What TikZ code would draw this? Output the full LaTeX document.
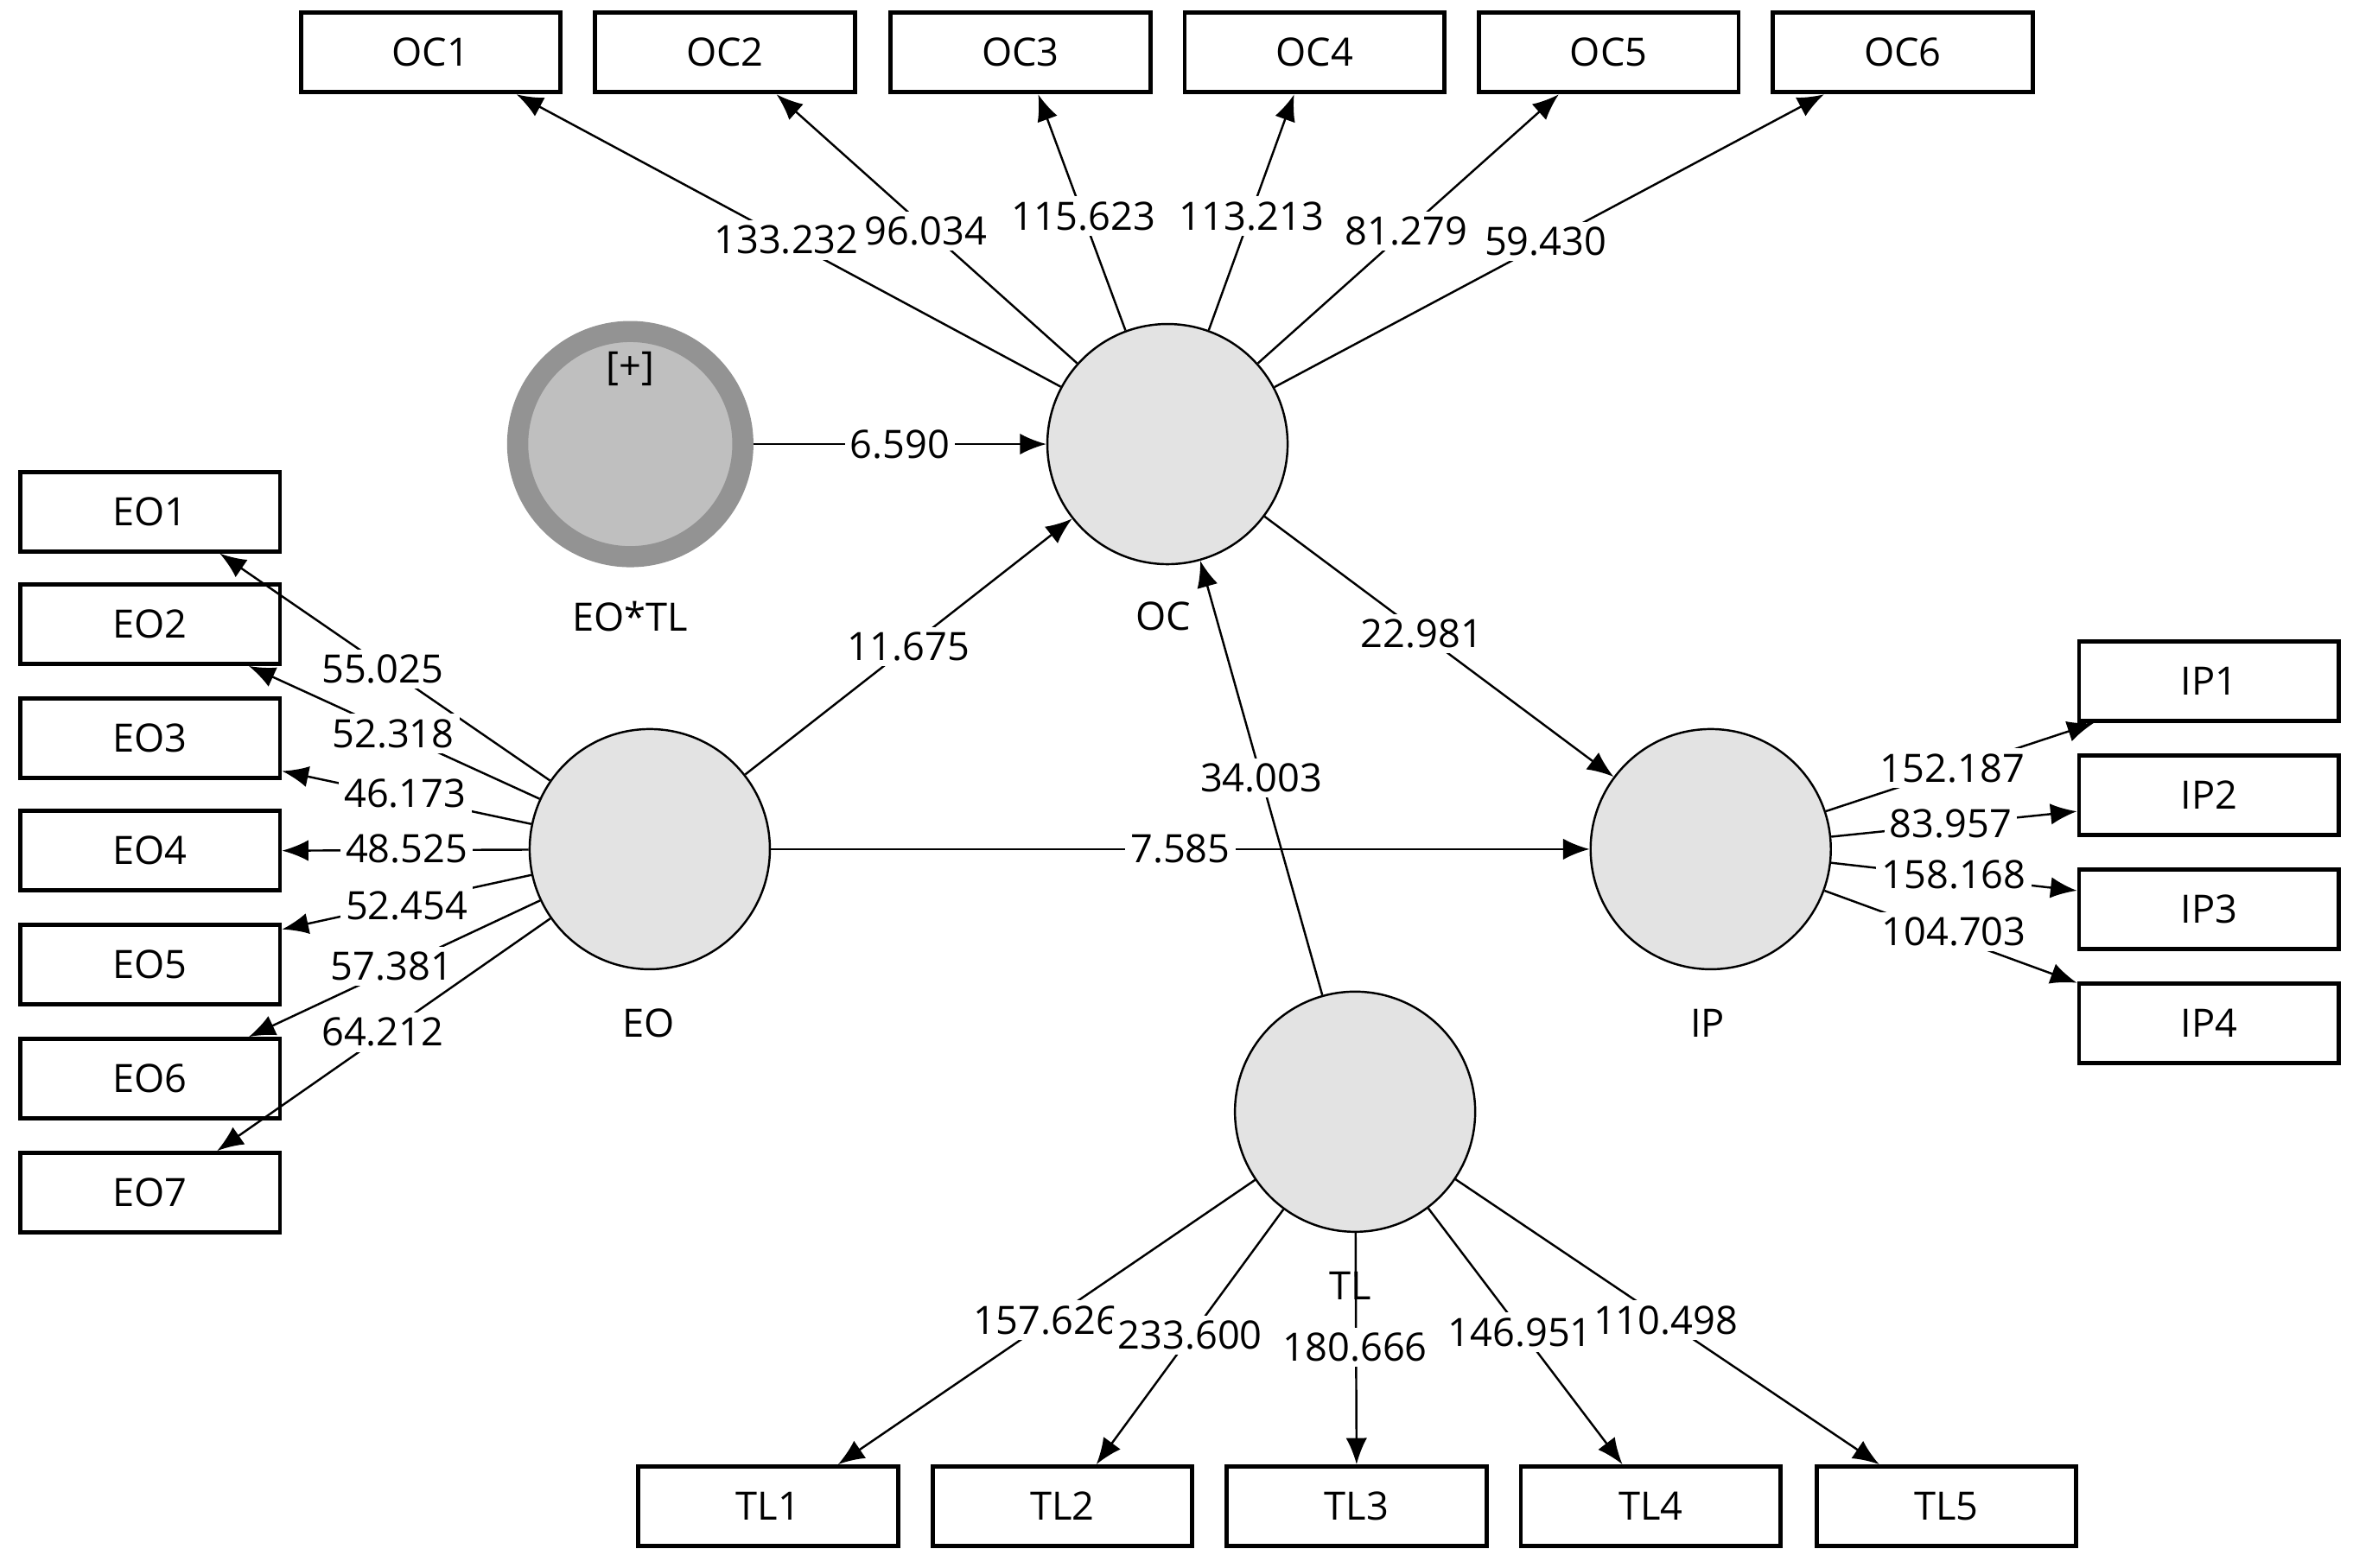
\documentclass[tikz,border=0pt]{standalone}
\usepackage{fontspec}
\setmainfont{Open Sans}
\usetikzlibrary{arrows.meta}
\begin{document}
\begin{tikzpicture}[x=0.01cm,y=-0.01cm,font=\fontsize{7.4}{9}\selectfont,
    ind/.style={draw,thick,minimum width=1.73cm,minimum height=0.53cm,inner sep=0pt},
    lat/.style={draw,circle,fill=gray!22,minimum size=1.6cm,inner sep=0pt},
    lbl/.style={fill=white,inner sep=1pt},
    arr/.style={-{Latex[length=5pt,width=4pt]}}]
    \useasboundingbox (0,0) rectangle (1568,1045);

    % latent variables
    \node[lat] (OC) at (778,296) {};
    \node[lat] (EO) at (433,566) {};
    \node[lat] (IP) at (1140,566) {};
    \node[lat] (TL) at (903,741) {};
    \node[lat,draw=gray!85,line width=4pt,minimum size=1.5cm,fill=gray!50] (EOTL) at (420,296) {};
    \node at (420,246) {[+]};
    \node at (420,411) {EO*TL};
    \node at (775,411) {OC};
    \node at (432,682) {EO};
    \node at (1138,682) {IP};
    \node at (900,857) {TL};

    % indicators
    \foreach \i/\x in {1/287,2/483,3/680,4/876,5/1072,6/1268}
        \node[ind] (OC\i) at (\x,35) {OC\i};
    \foreach \i/\y in {1/341,2/416,3/492,4/567,5/643,6/719,7/795}
        \node[ind] (EO\i) at (100,\y) {EO\i};
    \foreach \i/\y in {1/454,2/530,3/606,4/682}
        \node[ind] (IP\i) at (1472,\y) {IP\i};
    \foreach \i/\x in {1/512,2/708,3/904,4/1100,5/1297}
        \node[ind] (TL\i) at (\x,1004) {TL\i};

    % loadings
    \foreach \i/\a/\v/\lx/\ly in {1/-26/133.232/524/160,2/-39/96.034/617/154,3/-67/115.623/722/144,
        4/-116/113.213/834/144,5/-140/81.279/937/154,6/-152/59.430/1030/161}
    {
        \draw[arr] (OC) -- (OC\i.\a);
        \node[lbl] at (\lx,\ly) {\v};
    }
    \foreach \i/\a/\v/\lx/\ly in {1/-31/55.025/255/446,2/-23/52.318/262/489,3/-14/46.173/270/529,
        4/0/48.525/271/566,5/15/52.454/271/604,6/23/57.381/261/644,7/32/64.212/255/688}
    {
        \draw[arr] (EO) -- (EO\i.\a);
        \node[lbl] at (\lx,\ly) {\v};
    }
    \foreach \i/\a/\v/\lx/\ly in {1/-160/152.187/1301/512,2/-173/83.957/1300/549,
        3/172/158.168/1302/583,4/163/104.703/1302/621}
    {
        \draw[arr] (IP) -- (IP\i.\a);
        \node[lbl] at (\lx,\ly) {\v};
    }
    \foreach \i/\a/\v/\lx/\ly in {1/31/157.626/697/880,2/51/233.600/793/890,3/90/180.666/903/898,
        4/124/146.951/1013/888,5/148/110.498/1110/880}
    {
        \draw[arr] (TL) -- (TL\i.\a);
        \node[lbl] at (\lx,\ly) {\v};
    }

    % paths
    \draw[arr] (EOTL) -- node[lbl] {6.590} (OC);
    \draw[arr] (EO) -- node[lbl] {11.675} (OC);
    \draw[arr] (OC) -- node[lbl,pos=0.45] {22.981} (IP);
    \draw[arr] (EO) -- node[lbl,pos=0.5] {7.585} (IP);
    \draw[arr] (TL) -- node[lbl,pos=0.5] {34.003} (OC);
\end{tikzpicture}
\end{document}
